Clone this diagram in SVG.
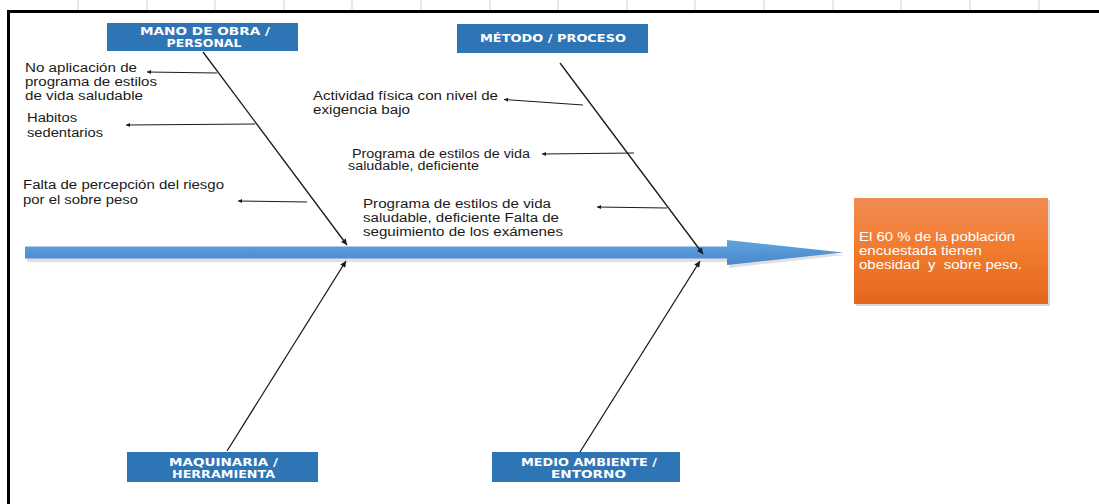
<svg xmlns="http://www.w3.org/2000/svg" width="1099" height="504" viewBox="0 0 1099 504">
  <defs>
    <linearGradient id="spineFill" x1="0" y1="0" x2="0" y2="1">
      <stop offset="0" stop-color="#62a3e0"/>
      <stop offset="1" stop-color="#4787cc"/>
    </linearGradient>
    <linearGradient id="effectFill" x1="0" y1="0" x2="0" y2="1">
      <stop offset="0" stop-color="#f08c52"/>
      <stop offset="0.5" stop-color="#f27a2c"/>
      <stop offset="1" stop-color="#e2691b"/>
    </linearGradient>
    <marker id="boneTip" viewBox="0 0 10 10" refX="10" refY="5" markerWidth="8" markerHeight="6" markerUnits="userSpaceOnUse" orient="auto">
      <path d="M0,0 L10,5 L0,10 z" fill="#1a1a1a"/>
    </marker>
    <marker id="causeTip" viewBox="0 0 10 10" refX="10" refY="5" markerWidth="8" markerHeight="4" markerUnits="userSpaceOnUse" orient="auto">
      <path d="M0,0 L10,5 L0,10 z" fill="#1a1a1a"/>
    </marker>
  </defs>
  <style>
    .grid { stroke: #d9d9d9; stroke-width: 1.2; }
    .frame { stroke: #000; stroke-width: 3; fill: none; }
    .cat rect { fill: #2e75b6; }
    .cat text { font-family: "DejaVu Sans", Verdana, sans-serif; font-weight: bold; font-size: 10.5px; fill: #fff; text-anchor: middle; }
    .cause { font-family: "Liberation Sans", Arial, sans-serif; font-size: 12px; fill: #1a1a1a; }
    .bone { stroke: #1a1a1a; stroke-width: 1.3; fill: none; marker-end: url(#boneTip); }
    .branch { stroke: #1a1a1a; stroke-width: 1; fill: none; marker-end: url(#causeTip); }
    .effect text { font-family: "Liberation Sans", Arial, sans-serif; font-size: 12px; fill: #fff; white-space: pre; }
  </style>

  <rect width="1099" height="504" fill="#fff"/>

  <!-- sheet column lines above the frame -->
  <g id="sheet-grid">
    <line class="grid" x1="78" y1="0" x2="78" y2="10"/>
    <line class="grid" x1="147" y1="0" x2="147" y2="10"/>
    <line class="grid" x1="215" y1="0" x2="215" y2="10"/>
    <line class="grid" x1="284" y1="0" x2="284" y2="10"/>
    <line class="grid" x1="352" y1="0" x2="352" y2="10"/>
    <line class="grid" x1="421" y1="0" x2="421" y2="10"/>
    <line class="grid" x1="490" y1="0" x2="490" y2="10"/>
    <line class="grid" x1="558" y1="0" x2="558" y2="10"/>
    <line class="grid" x1="627" y1="0" x2="627" y2="10"/>
    <line class="grid" x1="695" y1="0" x2="695" y2="10"/>
    <line class="grid" x1="764" y1="0" x2="764" y2="10"/>
    <line class="grid" x1="833" y1="0" x2="833" y2="10"/>
    <line class="grid" x1="901" y1="0" x2="901" y2="10"/>
    <line class="grid" x1="970" y1="0" x2="970" y2="10"/>
    <line class="grid" x1="1039" y1="0" x2="1039" y2="10"/>
  </g>

  <!-- outer frame (top and left edges) -->
  <path class="frame" d="M8.5,504 L8.5,11.5 L1099,11.5"/>

  <!-- spine arrow -->
  <g id="spine">
    <polygon points="27,249 729,249 729,243 845,255 729,268 729,262 27,262" fill="#000" opacity="0.12"/>
    <polygon points="25,246.5 727,246.5 727,240 843,252.5 727,265 727,258.5 25,258.5" fill="url(#spineFill)"/>
  </g>

  <g id="connectors">
    <!-- main bones -->
    <line class="bone" x1="203" y1="52" x2="347" y2="245"/>
    <line class="bone" x1="560" y1="63" x2="703" y2="254"/>
    <line class="bone" x1="227" y1="451" x2="346" y2="261"/>
    <line class="bone" x1="580" y1="452" x2="700" y2="261"/>
    <!-- causes: mano de obra -->
    <line class="branch" x1="217" y1="73" x2="147" y2="72"/>
    <line class="branch" x1="255" y1="124" x2="126" y2="125"/>
    <line class="branch" x1="307" y1="202" x2="238" y2="201"/>
    <!-- causes: método -->
    <line class="branch" x1="583" y1="105" x2="504" y2="99.5"/>
    <line class="branch" x1="634" y1="153" x2="542" y2="154"/>
    <line class="branch" x1="667" y1="208" x2="597" y2="207"/>
  </g>

  <g id="cat-mano-de-obra" class="cat">
    <rect x="107" y="23" width="191" height="28"/>
    <text x="205" y="35" textLength="130" lengthAdjust="spacingAndGlyphs">MANO DE OBRA /</text>
    <text x="204" y="47" textLength="75" lengthAdjust="spacingAndGlyphs">PERSONAL</text>
  </g>

  <g id="cat-metodo" class="cat">
    <rect x="457" y="24" width="191" height="29"/>
    <text x="553" y="42" textLength="146" lengthAdjust="spacingAndGlyphs">MÉTODO / PROCESO</text>
  </g>

  <g id="cat-maquinaria" class="cat">
    <rect x="127" y="452" width="191" height="30"/>
    <text x="223.5" y="466" textLength="109" lengthAdjust="spacingAndGlyphs">MAQUINARIA /</text>
    <text x="223.5" y="478" textLength="103" lengthAdjust="spacingAndGlyphs">HERRAMIENTA</text>
  </g>

  <g id="cat-medio-ambiente" class="cat">
    <rect x="492" y="452" width="188" height="30"/>
    <text x="589" y="466" textLength="136" lengthAdjust="spacingAndGlyphs">MEDIO AMBIENTE /</text>
    <text x="588.5" y="478" textLength="75" lengthAdjust="spacingAndGlyphs">ENTORNO</text>
  </g>

  <g id="causes-mano-de-obra">
    <text class="cause" x="25" y="72" textLength="112" lengthAdjust="spacingAndGlyphs">No aplicación de</text>
    <text class="cause" x="25" y="86" textLength="132" lengthAdjust="spacingAndGlyphs">programa de estilos</text>
    <text class="cause" x="25" y="100" textLength="118" lengthAdjust="spacingAndGlyphs">de vida saludable</text>
    <text class="cause" x="27" y="122" textLength="50" lengthAdjust="spacingAndGlyphs">Habitos</text>
    <text class="cause" x="27" y="137" textLength="76" lengthAdjust="spacingAndGlyphs">sedentarios</text>
    <text class="cause" x="23" y="189" textLength="201" lengthAdjust="spacingAndGlyphs">Falta de percepción del riesgo</text>
    <text class="cause" x="23" y="204" textLength="115" lengthAdjust="spacingAndGlyphs">por el sobre peso</text>
  </g>

  <g id="causes-metodo">
    <text class="cause" x="313" y="100" textLength="185" lengthAdjust="spacingAndGlyphs">Actividad física con nivel de</text>
    <text class="cause" x="313" y="114" textLength="97" lengthAdjust="spacingAndGlyphs">exigencia bajo</text>
    <text class="cause" x="352" y="158" textLength="178" lengthAdjust="spacingAndGlyphs">Programa de estilos de vida</text>
    <text class="cause" x="348" y="170" textLength="131" lengthAdjust="spacingAndGlyphs">saludable, deficiente</text>
    <text class="cause" x="363" y="208" textLength="188" lengthAdjust="spacingAndGlyphs">Programa de estilos de vida</text>
    <text class="cause" x="363" y="222" textLength="196" lengthAdjust="spacingAndGlyphs">saludable, deficiente Falta de</text>
    <text class="cause" x="363" y="236" textLength="200" lengthAdjust="spacingAndGlyphs">seguimiento de los exámenes</text>
  </g>

  <g id="effect" class="effect">
    <rect x="856" y="200" width="194" height="106" fill="#000" opacity="0.15"/>
    <rect x="854" y="198" width="194" height="106" fill="url(#effectFill)"/>
    <text x="859" y="241" textLength="156" lengthAdjust="spacingAndGlyphs">El 60 % de la población</text>
    <text x="859" y="255" textLength="123" lengthAdjust="spacingAndGlyphs">encuestada tienen</text>
    <text x="859" y="269" textLength="163" lengthAdjust="spacingAndGlyphs">obesidad  y  sobre peso.</text>
  </g>
</svg>
